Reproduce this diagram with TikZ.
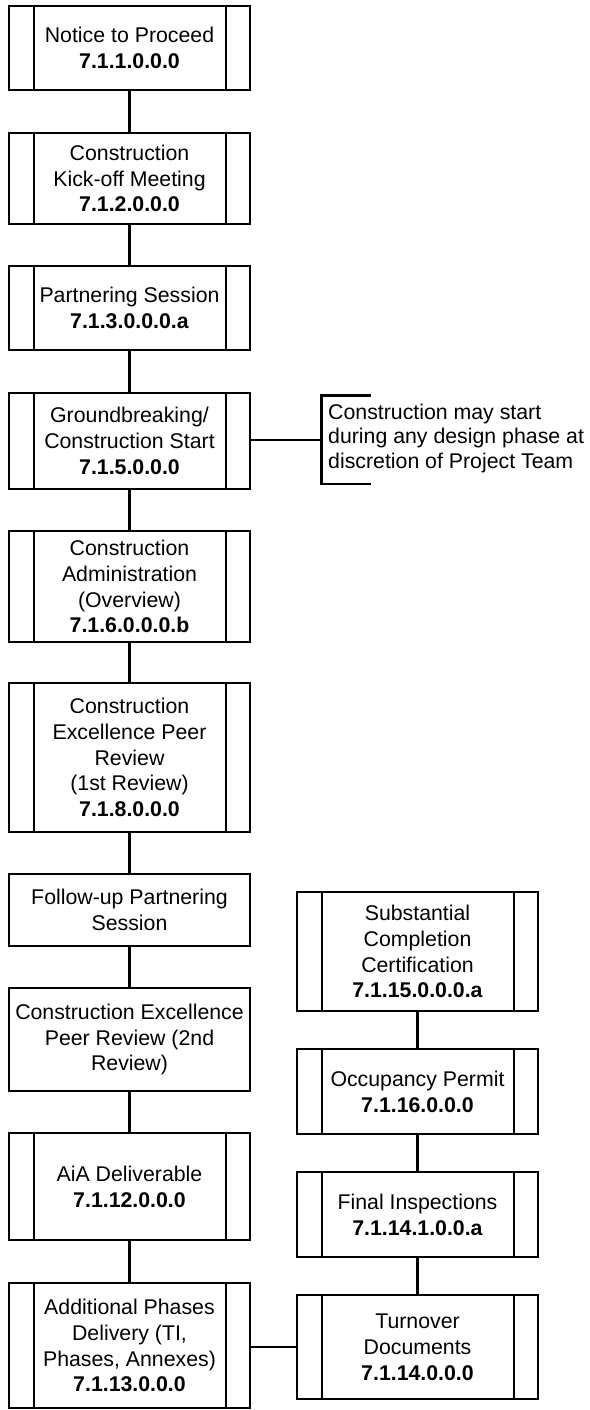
\documentclass[tikz,border=0pt]{standalone}
\usepackage{fontspec}
\setmainfont{Liberation Sans}
\newcommand{\boxfont}{\fontsize{21.3}{25.8}\selectfont}
\tikzset{
  box/.style={draw, line width=2.9pt, rectangle, minimum width=241pt, outer sep=0pt, inner sep=0pt, align=center, font=\boxfont},
  link/.style={line width=2.9pt},
  stripe/.style={line width=2.9pt}
}
\begin{document}
\begin{tikzpicture}[x=1pt,y=-1pt]
\useasboundingbox (0,0) rectangle (589,1410);
% left column
\node[box, minimum height=84pt]  (L1)  at (129.5,48)    {Notice to Proceed\\\textbf{7.1.1.0.0.0}};
\node[box, minimum height=91pt]  (L2)  at (129.5,178.5) {Construction\\Kick-off Meeting\\\textbf{7.1.2.0.0.0}};
\node[box, minimum height=84pt]  (L3)  at (129.5,308)   {Partnering Session\\\textbf{7.1.3.0.0.0.a}};
\node[box, minimum height=96pt]  (L4)  at (129.5,441)   {Groundbreaking/\\Construction Start\\\textbf{7.1.5.0.0.0}};
\node[box, minimum height=111pt] (L5)  at (129.5,586.5) {Construction\\Administration\\(Overview)\\\textbf{7.1.6.0.0.0.b}};
\node[box, minimum height=149pt] (L6)  at (129.5,757.5) {Construction\\Excellence Peer\\Review\\(1st Review)\\\textbf{7.1.8.0.0.0}};
\node[box, minimum height=72pt]  (L7)  at (129.5,910)   {Follow-up Partnering\\Session};
\node[box, minimum height=103pt] (L8)  at (129.5,1039.5){Construction Excellence\\Peer Review (2nd\\Review)};
\node[box, minimum height=107pt] (L9)  at (129.5,1186.5){AiA Deliverable\\\textbf{7.1.12.0.0.0}};
\node[box, minimum height=125pt] (L10) at (129.5,1345.5){Additional Phases\\Delivery (TI,\\Phases, Annexes)\\\textbf{7.1.13.0.0.0}};
% right column
\node[box, minimum height=119pt] (R1) at (417.5,951.5)  {Substantial\\Completion\\Certification\\\textbf{7.1.15.0.0.0.a}};
\node[box, minimum height=85pt]  (R2) at (417.5,1091.5) {Occupancy Permit\\\textbf{7.1.16.0.0.0}};
\node[box, minimum height=85pt]  (R3) at (417.5,1214.5) {Final Inspections\\\textbf{7.1.14.1.0.0.a}};
\node[box, minimum height=104pt] (R4) at (417.5,1347)   {Turnover\\Documents\\\textbf{7.1.14.0.0.0}};
% sub-process stripes
\foreach \n in {L1,L2,L3,L4,L5,L6,L9,L10,R1,R2,R3,R4}{
  \draw[stripe] ([xshift=25pt]\n.north west) -- ([xshift=25pt]\n.south west);
  \draw[stripe] ([xshift=-24pt]\n.north east) -- ([xshift=-24pt]\n.south east);
}
% connectors
\draw[link] (L1) -- (L2);
\draw[link] (L2) -- (L3);
\draw[link] (L3) -- (L4);
\draw[link] (L4) -- (L5);
\draw[link] (L5) -- (L6);
\draw[link] (L6) -- (L7);
\draw[link] (L7) -- (L8);
\draw[link] (L8) -- (L9);
\draw[link] (L9) -- (L10);
\draw[link] (R4.west) -- (R4.west -| L10.east);
\draw[link] (R4) -- (R3);
\draw[link] (R3) -- (R2);
\draw[link] (R2) -- (R1);
% annotation
\coordinate (brk) at (321.7,440);
\node[anchor=west, align=left, inner sep=0pt, font=\fontsize{21.3}{24.5}\selectfont] (ann) at (328,438) {Construction may start\\during any design phase at\\discretion of Project Team};
\draw[link] (L4.east |- brk) -- (brk);
\draw[link] (370.7,395.7) -- (321.7,395.7) -- (321.7,484) -- (370.7,484);
\end{tikzpicture}
\end{document}
